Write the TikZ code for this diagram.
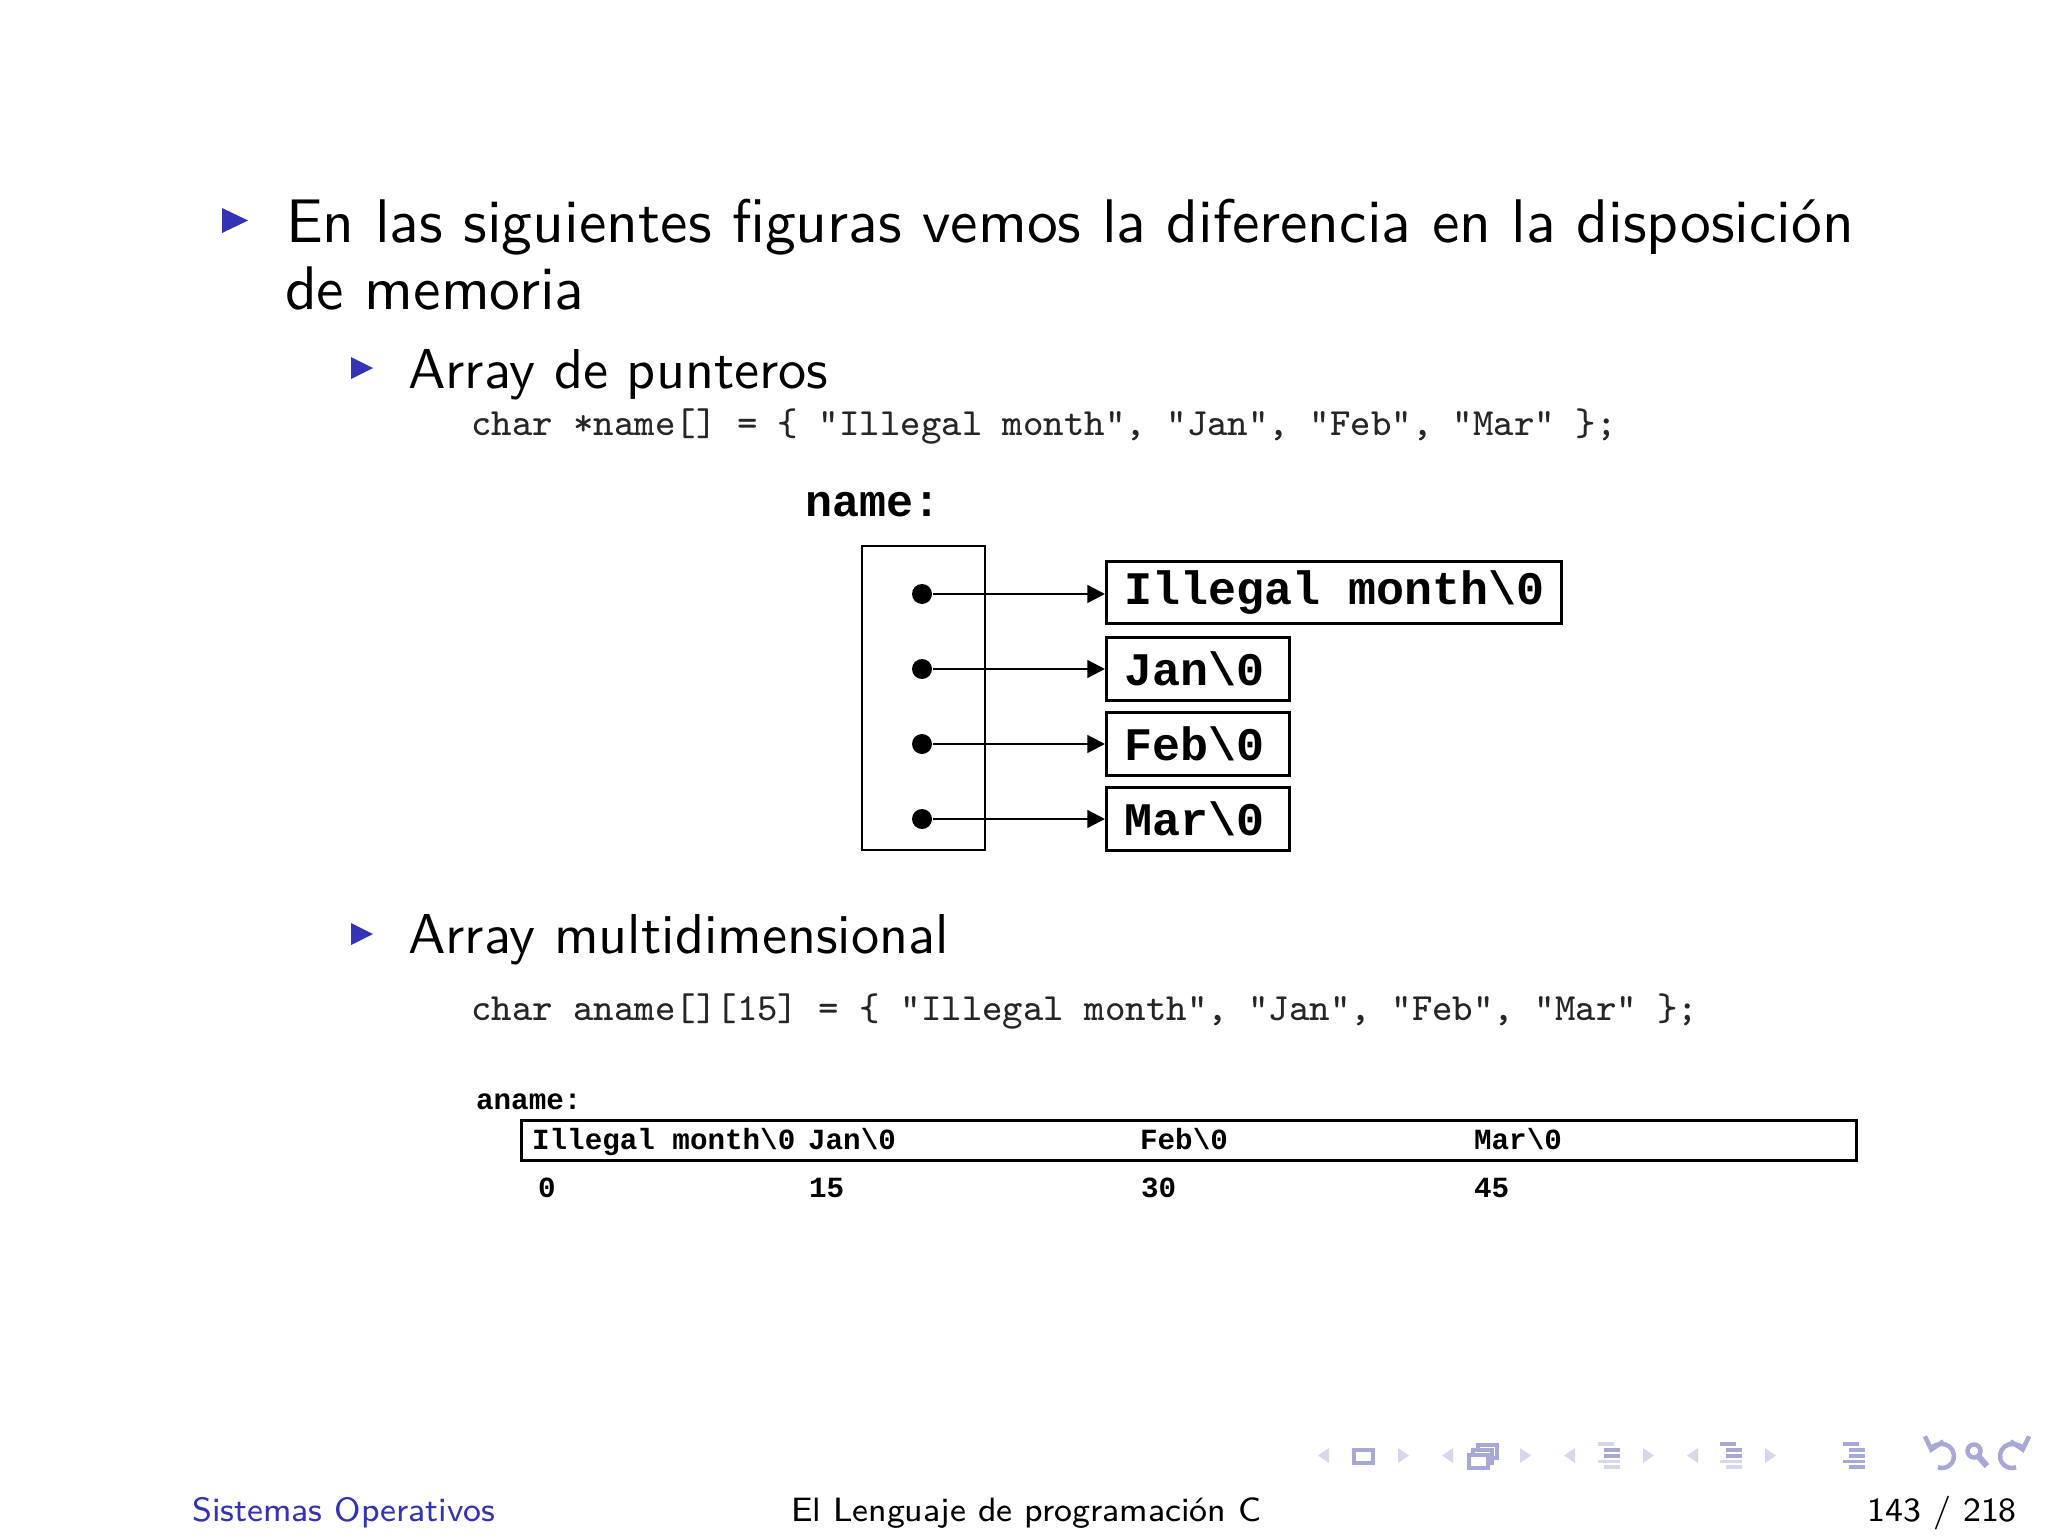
\documentclass[tikz,border=0pt]{standalone}
\usepackage{fontspec}
\setmainfont{Latin Modern Sans}
\newfontfamily\codefont{Liberation Mono}
\usetikzlibrary{positioning,arrows,arrows.meta,calc}
\definecolor{beamerblue}{RGB}{51,51,179}
\definecolor{navdark}{RGB}{168,168,214}
\definecolor{navlight}{RGB}{214,214,236}
\tikzset{
    on grid,
    node distance=4.6875mm,
    auto,
    itemtext/.style = {
        anchor=base west,
        inner sep=0pt,
        font=\fontsize{10.95}{13}\selectfont
    },
    subtext/.style = {
        anchor=base west,
        inner sep=0pt,
        font=\fontsize{10}{12}\selectfont
    },
    codeline/.style = {
        anchor=base west,
        inner sep=0pt,
        text=black!85,
        font=\ttfamily\fontsize{6.85}{8}\selectfont
    },
    varname/.style = {
        anchor=base west,
        inner sep=0pt,
        font=\codefont\bfseries\fontsize{8}{9}\selectfont
    },
    ptrbox/.style = {
        draw,
        shape=rectangle,
        minimum width=7.69mm,
        minimum height=19mm,
        line width=0.5pt
    },
    ptr/.style = {
        shape=circle,
        fill,
        inner sep=0pt,
        minimum size=1.25mm
    },
    strbox/.style = {
        draw,
        shape=rectangle,
        anchor=west,
        inner xsep=1.1mm,
        inner ysep=0pt,
        minimum height=3.9mm,
        line width=0.5pt,
        font=\codefont\bfseries\fontsize{8.3}{9}\selectfont
    },
    rowbox/.style = {
        draw,
        shape=rectangle,
        anchor=north west,
        inner sep=0pt,
        minimum width=83.44mm,
        minimum height=2.5mm,
        line width=0.5pt
    },
    cell/.style = {
        anchor=base west,
        inner sep=0pt,
        font=\codefont\bfseries\fontsize{5.2}{6}\selectfont
    },
    foot/.style = {
        anchor=base west,
        inner sep=0pt,
        font=\fontsize{6}{7}\selectfont
    },
    navbar/.style = {
        line width=0.55pt
    },
    >={Triangle[length=1.1mm,width=1.1mm]},
}

\begin{document}
\begin{tikzpicture}[x=0.0625mm, y=-0.0625mm]
        \useasboundingbox (0,0) rectangle (2048,1536);

        \fill[beamerblue] (222,208) -- (248,220.5) -- (222,233) -- cycle;
        \node[itemtext] (line1) at (285,242) {En las siguientes figuras vemos la diferencia en la disposición};
        \node[itemtext] (line2) at (284,309) {de memoria};

        \fill[beamerblue] (351,357) -- (373,368) -- (351,379) -- cycle;
        \node[subtext] (punteros) at (407,388) {Array de punteros};
        \node[codeline] (code1) at (470,436) {char *name[] = \{ "Illegal month", "Jan", "Feb", "Mar" \};};

        \node[varname] (name) at (804,516) {name:};
        \node[ptrbox] (namebox) at (923.5,698) {};
        \node[ptr] (ptr1) at (922,594) {};
        \node[ptr, below of=ptr1] (ptr2) {};
        \node[ptr, below of=ptr2] (ptr3) {};
        \node[ptr, below of=ptr3] (ptr4) {};

        \node[strbox] (illegal) at (1105,592.5) {\makebox[26.25mm][l]{Illegal month\textbackslash0}};
        \node[strbox] (jan) at (ptr2 -| illegal.west) {\makebox[9.25mm][l]{Jan\textbackslash0}};
        \node[strbox] (feb) at (ptr3 -| illegal.west) {\makebox[9.25mm][l]{Feb\textbackslash0}};
        \node[strbox] (mar) at (ptr4 -| illegal.west) {\makebox[9.25mm][l]{Mar\textbackslash0}};

        \path[draw, ->, line width=0.4pt] (ptr1) -- (ptr1 -| illegal.west);
        \path[draw, ->, line width=0.4pt] (ptr2) -- (jan.west);
        \path[draw, ->, line width=0.4pt] (ptr3) -- (feb.west);
        \path[draw, ->, line width=0.4pt] (ptr4) -- (mar.west);

        \fill[beamerblue] (351,923) -- (373,934) -- (351,945) -- cycle;
        \node[subtext] (multi) at (407,953) {Array multidimensional};
        \node[codeline] (code2) at (470,1020) {char aname[][15] = \{ "Illegal month", "Jan", "Feb", "Mar" \};};

        \node[cell] (aname) at (475,1109) {aname:};
        \node[rowbox] (row) at (520,1119) {};
        \node[cell] (cell0) at (531,1149) {Illegal month\textbackslash0};
        \node[cell] (cell15) at (807,1149) {Jan\textbackslash0};
        \node[cell] (cell30) at (1139,1149) {Feb\textbackslash0};
        \node[cell] (cell45) at (1473,1149) {Mar\textbackslash0};
        \node[cell] (idx0) at (537,1197) {0};
        \node[cell] (idx15) at (808,1197) {15};
        \node[cell] (idx30) at (1140,1197) {30};
        \node[cell] (idx45) at (1473,1197) {45};

        \foreach \lx/\rx in {1318/1398, 1442/1520, 1564/1643, 1687/1765}{
            \fill[navlight] (\lx+11,1448) -- (\lx,1455.5) -- (\lx+11,1463) -- cycle;
            \fill[navlight] (\rx,1448) -- (\rx+11,1455.5) -- (\rx,1463) -- cycle;
        }
        \draw[navdark, line width=0.7pt] (1354,1450) rectangle (1373,1463);
        \draw[navdark, fill=white, line width=0.7pt] (1478,1445) rectangle (1497,1458);
        \draw[navdark, fill=white, line width=0.7pt] (1473,1450) rectangle (1492,1463);
        \draw[navdark, fill=white, line width=0.7pt] (1469,1455) rectangle (1488,1468);
        \foreach \bx/\ca/\cb/\cc in {1598/navlight/navdark/navlight, 1720/navdark/navdark/navlight, 1843/navdark/navdark/navdark}{
            \draw[navbar, \ca] (\bx,1444) -- (\bx+16,1444);
            \draw[navbar, \cb] (\bx+6,1450) -- (\bx+22,1450);
            \draw[navbar, \cb] (\bx+6,1456) -- (\bx+22,1456);
            \draw[navbar, \cc] (\bx,1461.5) -- (\bx+22,1461.5);
            \draw[navbar, \cc] (\bx+6,1467) -- (\bx+22,1467);
        }
        \draw[navdark, line width=0.8pt, {Straight Barb[length=0.7mm,width=1.2mm]}-] (1930.4,1452.9) arc (-165:110:12);
        \draw[navdark, line width=0.8pt] (1974,1451) circle (6.5);
        \draw[navdark, line width=1.1pt] (1979,1457) -- (1987,1466);
        \draw[navdark, line width=0.8pt, {Straight Barb[length=0.7mm,width=1.2mm]}-] (2023.6,1452.9) arc (-15:-290:12);

        \node[foot, text=beamerblue] (series) at (191,1521) {Sistemas Operativos};
        \node[foot] (title) at (790,1521) {El Lenguaje de programación C};
        \node[foot, anchor=base east] (page) at (2018,1521) {143 / 218};
\end{tikzpicture}
\end{document}
